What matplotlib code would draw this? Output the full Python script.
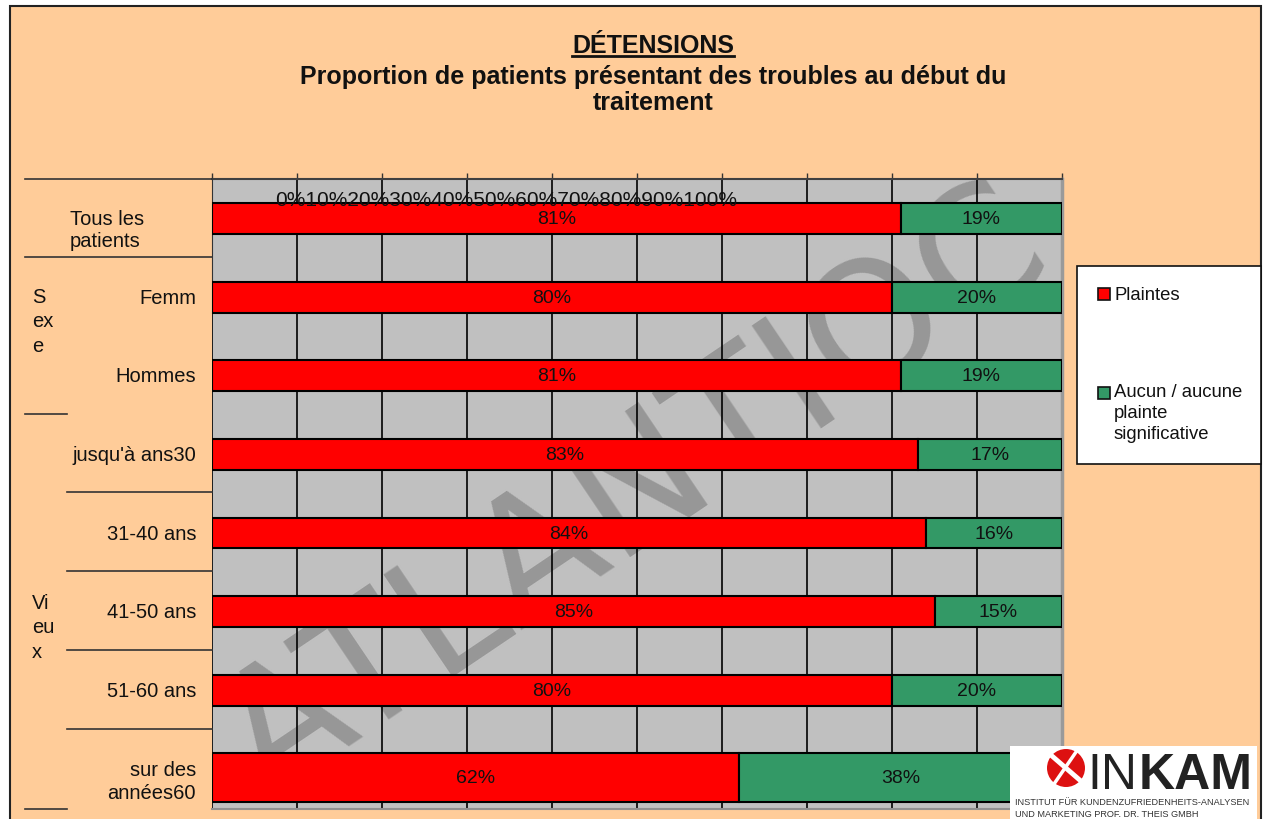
import matplotlib
matplotlib.use('Agg')
import matplotlib.pyplot as plt
import numpy as np
from matplotlib.patches import Rectangle, Ellipse
from matplotlib.lines import Line2D

plt.rcParams['font.family'] = ['Liberation Sans', 'DejaVu Sans']

# ---------------- data ----------------
categories = ["Tous les\npatients", "Femm", "Hommes", "jusqu'à ans30",
              "31-40 ans", "41-50 ans", "51-60 ans", "sur des\nannées60"]
plaintes = [81, 80, 81, 83, 84, 85, 80, 62]
aucune = [19, 20, 19, 17, 16, 15, 20, 38]
series_names = ["Plaintes", "Aucun / aucune\nplainte\nsignificative"]
tick_labels = ["0%", "10%", "20%", "30%", "40%", "50%", "60%", "70%", "80%", "90%", "100%"]
group_labels = ["S\nex\ne", "Vi\neu\nx"]
title_main = "DÉTENSIONS"
subtitle = "Proportion de patients présentant des troubles au début du\ntraitement"
watermark = "ATLANTIOC"

RED = '#FF0000'
GREEN = '#339966'
ORANGE = '#FFCC99'
GREY = '#C0C0C0'

W, H = 1263, 820
fig = plt.figure(figsize=(W / 100, H / 100), dpi=100, facecolor='white')


def fx(x):
    return x / W


def fy(y):
    return 1 - y / H


def fline(x0, y0, x1, y1, color='#333333', lw=1.2):
    fig.add_artist(Line2D([fx(x0), fx(x1)], [fy(y0), fy(y1)], transform=fig.transFigure,
                          color=color, lw=lw, zorder=2))


# page frame
fig.add_artist(Rectangle((fx(10), fy(835)), fx(1261) - fx(10), fy(7) - fy(835),
                         transform=fig.transFigure, facecolor=ORANGE, edgecolor='#222222',
                         lw=1.5, zorder=0))

# ---------------- axes ----------------
ax = fig.add_axes([fx(212), fy(810), fx(1062) - fx(212), fy(180) - fy(810)])
ax.set_facecolor(GREY)
n = len(categories)
pos = np.arange(n, dtype=float)
heights = np.full(n, 0.39)
pos[-1] += 0.11
heights[-1] = 0.62

ax.barh(pos, plaintes, height=heights, color=RED, edgecolor='black', lw=1.5, zorder=3)
ax.barh(pos, aucune, height=heights, left=plaintes, color=GREEN, edgecolor='black', lw=1.5, zorder=3)

for p, a, y in zip(plaintes, aucune, pos):
    ax.text(p / 2, y, f"{p}%", ha='center', va='center', fontsize=14, color='#111111', zorder=5)
    ax.text(p + a / 2, y, f"{a}%", ha='center', va='center', fontsize=14, color='#111111', zorder=5)

ax.set_xlim(0, 100)
ax.set_ylim(7.51, -0.503)
ax.set_xticks(np.arange(0, 101, 10))
ax.set_yticks([])
ax.xaxis.tick_top()
ax.tick_params(axis='x', direction='out', length=4, width=1, color='#333333',
               labeltop=False, labelbottom=False)
ax.grid(axis='x', color='black', lw=1.2, zorder=1)
ax.set_axisbelow(True)
ax.spines['top'].set_color('#404040')
ax.spines['top'].set_linewidth(1.5)
ax.spines['right'].set_color('#9a9a9a')
ax.spines['right'].set_linewidth(2.5)
ax.spines['bottom'].set_color('#909090')
ax.spines['bottom'].set_linewidth(1.5)
ax.spines['left'].set_color('#333333')
ax.spines['left'].set_bounds(-0.503, 1.2)

# watermark
ax.text(0.50, 0.50, watermark, transform=ax.transAxes, rotation=34, rotation_mode='anchor',
        ha='center', va='center', fontsize=122, color='#979797', zorder=0.5,
        family='DejaVu Sans', clip_on=True)

# crammed tick label string
fig.text(fx(506), fy(201), ''.join(tick_labels), ha='center', va='center', fontsize=15,
         color='#111111', zorder=6)

# ---------------- left table ----------------
fline(25, 180, 212, 180)
fline(25, 258, 212, 258)
fline(25, 415, 67, 415)
for yy in (493, 572, 651, 730):
    fline(67, yy, 212, yy)
fline(25, 810, 67, 810)

ytr = ax.get_yaxis_transform()
for i, (lab, y) in enumerate(zip(categories, pos)):
    if i == 0:
        ax.text(-0.167, y + 0.14, lab, transform=ytr, ha='left', va='center', fontsize=14.5,
                linespacing=1.25, color='#111111', clip_on=False)
    else:
        ax.text(-0.0188, y + (0.04 if '\n' in lab else 0), lab, transform=ytr, ha='right',
                va='center', fontsize=14.5, linespacing=1.25, color='#111111',
                multialignment='right', clip_on=False)

fig.text(fx(32), fy(322), group_labels[0], ha='left', va='center', fontsize=14.5,
         linespacing=1.38, color='#111111')
fig.text(fx(32), fy(628), group_labels[1], ha='left', va='center', fontsize=14.5,
         linespacing=1.38, color='#111111')

# ---------------- titles ----------------
t1 = fig.text(fx(653), fy(46), title_main, ha='center', va='center', fontsize=18,
              fontweight='bold', color='#111111')
fig.text(fx(653), fy(90), subtitle, ha='center', va='center', fontsize=18,
         fontweight='bold', linespacing=1.15, color='#111111', multialignment='center')
fig.canvas.draw()
bb = t1.get_window_extent()
fig.add_artist(Line2D([bb.x0 / W, bb.x1 / W], [fy(57), fy(57)], transform=fig.transFigure,
                      color='#111111', lw=2))

# ---------------- legend ----------------
fig.add_artist(Rectangle((fx(1077), fy(465)), fx(1261) - fx(1077), fy(267) - fy(465),
                         transform=fig.transFigure, facecolor='white', edgecolor='#111111',
                         lw=1.2, zorder=3))
for col, name, ym, yt, va in [(RED, series_names[0], 295, 295, 'center'),
                              (GREEN, series_names[1], 394, 384, 'top')]:
    fig.add_artist(Rectangle((fx(1098), fy(ym + 6)), fx(1110) - fx(1098), fy(ym - 6) - fy(ym + 6),
                             transform=fig.transFigure, facecolor=col, edgecolor='#111111',
                             lw=1.2, zorder=4))
    fig.text(fx(1114), fy(yt), name, ha='left', va=va, fontsize=13.3, linespacing=1.3,
             color='#111111', zorder=5)

# ---------------- logo ----------------
fig.add_artist(Rectangle((fx(1010), fy(835)), fx(1257) - fx(1010), fy(747) - fy(835),
                         transform=fig.transFigure, facecolor='white', edgecolor='none', zorder=6))
fig.add_artist(Ellipse((fx(1066), fy(769)), 38 / W, 38 / H, transform=fig.transFigure,
                       facecolor='#DD1111', edgecolor='none', zorder=7))
fig.add_artist(Line2D([fx(1052), fx(1082)], [fy(757), fy(783)], transform=fig.transFigure,
                      color='white', lw=3.5, zorder=8))
fig.add_artist(Line2D([fx(1054), fx(1076)], [fy(785), fy(753)], transform=fig.transFigure,
                      color='white', lw=2.5, zorder=8))
fig.text(fx(1087), fy(789), "IN", ha='left', va='baseline', fontsize=36, fontweight='light',
         color='#222222', zorder=8)
fig.text(fx(1139), fy(789), "KAM", ha='left', va='baseline', fontsize=36, fontweight='bold',
         color='#222222', zorder=8)
fig.text(fx(1015), fy(803), "INSTITUT FÜR KUNDENZUFRIEDENHEITS-ANALYSEN", ha='left', va='center',
         fontsize=6.6, color='#333333', zorder=8)
fig.text(fx(1015), fy(815), "UND MARKETING PROF. DR. THEIS GMBH", ha='left', va='center',
         fontsize=6.6, color='#333333', zorder=8)

fig.savefig('out.png', dpi=100, facecolor='white')
